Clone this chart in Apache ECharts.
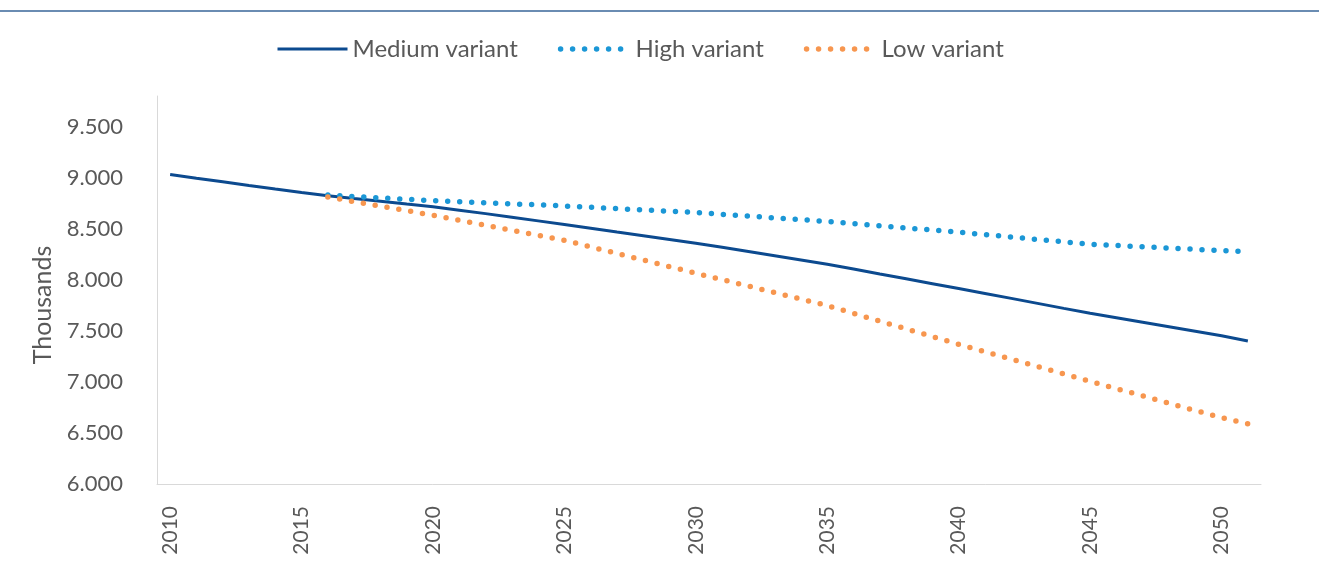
<!DOCTYPE html>
<html>
<head>
<meta charset="utf-8">
<script src="https://cdn.jsdelivr.net/npm/echarts@6/dist/echarts.min.js"></script>
<style>
html,body{margin:0;padding:0;background:#fff;}
#chart{width:1319px;height:585px;}
</style>
</head>
<body>
<div id="chart"></div>
<script>
const years = [];
for (let y = 2010; y <= 2051; y++) years.push(String(y));

const seriesNames = ['Medium variant', 'High variant', 'Low variant'];

const mediumVariant = [9031, 8995, 8960, 8924, 8889, 8855, 8822, 8795, 8769, 8742,
  8716, 8682, 8648, 8613, 8577, 8541, 8505, 8468, 8432, 8395,
  8358, 8318, 8277, 8236, 8194, 8152, 8105, 8057, 8010, 7962,
  7914, 7866, 7818, 7769, 7720, 7672, 7628, 7584, 7540, 7496,
  7451, 7400];

const highVariant = [null, null, null, null, null, null, 8830, 8815, 8801, 8788,
  8775, 8765, 8755, 8744, 8734, 8723, 8710, 8697, 8684, 8672,
  8659, 8641, 8624, 8606, 8589, 8571, 8550, 8529, 8508, 8487,
  8466, 8442, 8419, 8395, 8372, 8348, 8336, 8323, 8311, 8298,
  8286, 8275];

const lowVariant = [null, null, null, null, null, null, 8810, 8766, 8721, 8677,
  8632, 8583, 8534, 8485, 8436, 8387, 8322, 8258, 8193, 8129,
  8064, 8001, 7938, 7874, 7811, 7747, 7671, 7595, 7520, 7444,
  7368, 7295, 7223, 7150, 7078, 7005, 6934, 6863, 6791, 6720,
  6649, 6590];

const yAxisName = 'Thousands';

const FONT = 'Lato, "Noto Sans", sans-serif';
const TXT = '#595959';

function fmt(v) {
  return String(v).replace(/\B(?=(\d{3})+(?!\d))/g, '.');
}

const chart = echarts.init(document.getElementById('chart'), null, {renderer: 'canvas'});
chart.setOption({
  animation: false,
  backgroundColor: '#ffffff',
  graphic: [{
    type: 'rect', left: 0, top: 10, shape: {width: 1319, height: 2},
    style: {fill: '#6a8cb2'}, silent: true
  }],
  legend: {
    top: 37, left: 276, padding: 0,
    itemWidth: 70, itemHeight: 24, itemGap: 40,
    textStyle: {fontFamily: FONT, fontSize: 24, color: TXT},
    itemStyle: {color: 'rgba(0,0,0,0)', borderColor: 'rgba(0,0,0,0)', borderWidth: 0, opacity: 0},
    lineStyle: {width: 'inherit'},
    data: seriesNames
  },
  grid: {left: 157, top: 96, right: 58, bottom: 101, containLabel: false},
  xAxis: {
    type: 'category',
    data: years,
    boundaryGap: true,
    axisLine: {show: true, lineStyle: {color: '#d9d9d9', width: 1}},
    axisTick: {show: false},
    axisLabel: {interval: 4, rotate: 90, margin: 22, fontFamily: FONT, fontSize: 21, color: TXT}
  },
  yAxis: {
    type: 'value',
    min: 6000, max: 9800, interval: 500,
    name: yAxisName,
    nameLocation: 'middle',
    nameGap: 102,
    nameRotate: 90,
    nameTextStyle: {fontFamily: FONT, fontSize: 25, color: TXT, padding: [0, 30, 0, 0]},
    axisLine: {show: true, lineStyle: {color: '#d9d9d9', width: 1}},
    axisTick: {show: false},
    splitLine: {show: false},
    axisLabel: {
      margin: 34, fontFamily: FONT, fontSize: 22, color: TXT,
      formatter: function (v) { return v % 500 === 0 ? fmt(v) : ''; }
    }
  },
  series: [
    {
      name: seriesNames[0], type: 'line', data: mediumVariant,
      symbol: 'none', connectNulls: false,
      lineStyle: {color: '#0c4a8f', width: 3},
      itemStyle: {color: '#0c4a8f'}
    },
    {
      name: seriesNames[1], type: 'line', data: highVariant,
      symbol: 'none',
      lineStyle: {color: '#1b97d6', width: 5.5, type: [0, 12], cap: 'round'},
      itemStyle: {color: '#1b97d6'}
    },
    {
      name: seriesNames[2], type: 'line', data: lowVariant,
      symbol: 'none',
      lineStyle: {color: '#f7964f', width: 5.5, type: [0, 12], cap: 'round'},
      itemStyle: {color: '#f7964f'}
    }
  ]
});
</script>
</body>
</html>
